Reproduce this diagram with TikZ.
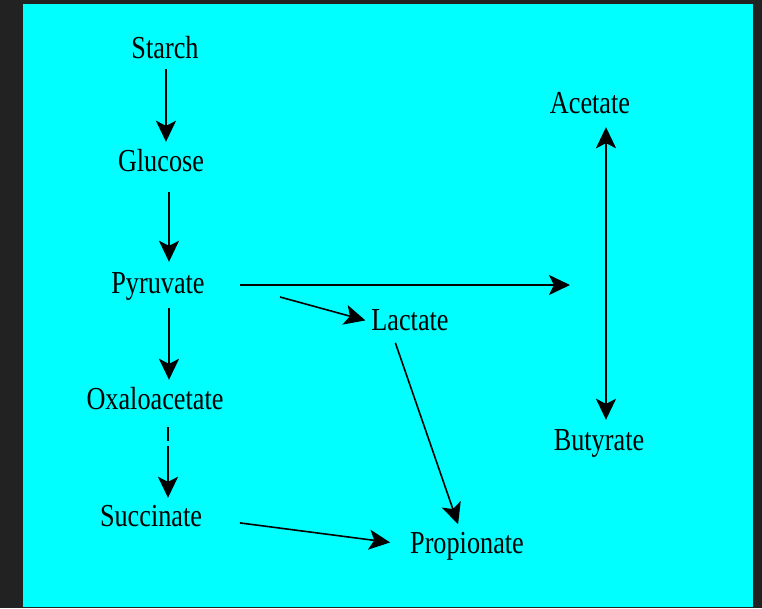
\documentclass[tikz,border=0pt]{standalone}
\usepackage{fontspec}
\setmainfont{Liberation Serif}[FakeStretch=0.82]
\usepackage{xcolor}
\usetikzlibrary{arrows.meta,calc}
\definecolor{rumencyan}{HTML}{00FFFF}
\definecolor{darkrim}{HTML}{222222}
\tikzset{flow/.style={-{Stealth[length=21pt,width=20pt,inset=5pt]},line width=2pt},
         biflow/.style={{Stealth[length=21pt,width=20pt,inset=5pt]}-{Stealth[length=21pt,width=20pt,inset=5pt]},line width=2pt},
         chem/.style={font=\fontsize{32}{36}\selectfont,anchor=base,inner sep=0pt,
                      text height=22pt,text depth=6pt}}
\begin{document}
\begin{tikzpicture}[x=1pt,y=-1pt,
  slant/.style={flow,line width=1.6pt}]
% background
\useasboundingbox (0,0) rectangle (762,608);
\fill[darkrim] (0,0) rectangle (762,608);
\fill[rumencyan] (23,4) rectangle (753,607);
% metabolites
\node[chem] (starch)    at (165,58)  {Starch};
\node[chem] (glucose)   at (161,171) {Glucose};
\node[chem] (pyruvate)  at (158,293) {Pyruvate};
\node[chem] (lactate)   at (410,330) {Lactate};
\node[chem] (oxalo)     at (155,409) {Oxaloacetate};
\node[chem] (succinate) at (151,526) {Succinate};
\node[chem] (propionate) at (467,553) {Propionate};
\node[chem] (acetate)   at (590,113) {Acetate};
\node[chem] (butyrate)  at (599,450) {Butyrate};
\coordinate (rail) at (606,285);
% main chain
\draw[flow,shorten <=5pt,shorten >=7pt] (starch.south -| 166,0) -- (glucose.north -| 166,0);
\draw[flow,shorten <=15pt,shorten >=9pt] (glucose.south -| 169,0) -- (pyruvate.north -| 169,0);
\draw[flow,shorten <=9pt,shorten >=7pt] (pyruvate.south -| 169,0) -- (oxalo.north -| 169,0);
\draw[flow,shorten <=12pt,shorten >=6pt,dash pattern=on 14pt off 5pt on 200pt]
   (oxalo.south -| 168,0) -- (succinate.north -| 168,0);
% side branches
\draw[flow,shorten <=35pt,shorten >=36pt] (pyruvate.east) -- (pyruvate.east -| rail);
\coordinate (pl) at (280,297);
\draw[slant,shorten >=6pt] (pl) -- (lactate.west);
\draw[slant,shorten <=7pt,shorten >=7pt] (lactate.-140) -- (propionate.115);
\draw[slant,shorten <=38pt,shorten >=20pt] (succinate.east) -- (propionate.west);
\draw[biflow,shorten <=8pt,shorten >=8pt] (acetate.south -| rail) -- (butyrate.north -| rail);
\end{tikzpicture}
\end{document}
